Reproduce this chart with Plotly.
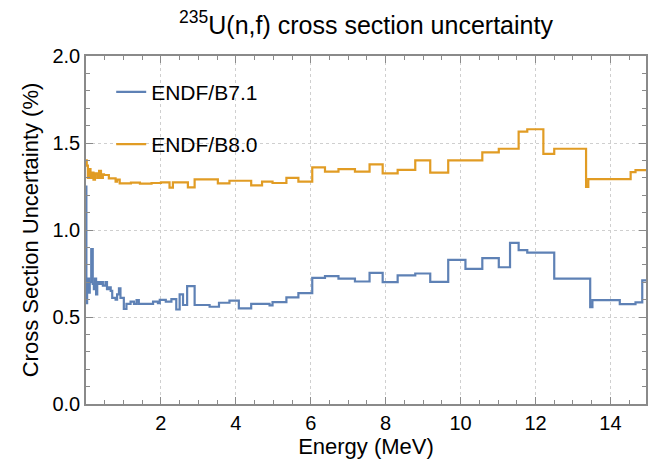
import plotly.graph_objects as go

# ENDF/B7.1 : bin start energies (MeV) and uncertainty (%)
e71 = [0.0, 0.01, 0.03, 0.06, 0.08, 0.10, 0.14, 0.18, 0.21, 0.24, 0.27, 0.30, 0.35, 0.40,
       0.45, 0.52, 0.56, 0.61, 0.66, 0.70, 0.79, 0.83, 0.88, 0.92, 1.01, 1.08, 1.19, 1.28,
       1.35, 1.41, 1.79, 1.92, 1.97, 2.13, 2.28, 2.41, 2.50, 2.59, 2.70, 2.90, 3.30, 3.55,
       3.83, 4.08, 4.41, 4.90, 4.98, 5.35, 5.67, 6.04, 6.38, 6.74, 7.18, 7.57, 7.92, 8.32,
       8.79, 9.19, 9.67, 10.13, 10.58, 11.02, 11.32, 11.55, 11.78, 12.50, 13.46, 13.52,
       14.25, 14.67, 14.85, 14.95]
u71 = [1.25, 0.58, 0.66, 0.72, 0.64, 0.70, 0.89, 0.69, 0.66, 0.72, 0.63, 0.70, 0.69, 0.70,
       0.68, 0.70, 0.66, 0.67, 0.65, 0.61, 0.60, 0.63, 0.665, 0.61, 0.546, 0.575, 0.588, 0.575,
       0.597, 0.575, 0.588, 0.58, 0.598, 0.588, 0.603, 0.543, 0.63, 0.569, 0.678, 0.569, 0.559,
       0.582, 0.594, 0.55, 0.575, 0.567, 0.586, 0.613, 0.637, 0.725, 0.735, 0.721, 0.704,
       0.754, 0.70, 0.739, 0.75, 0.702, 0.828, 0.777, 0.838, 0.786, 0.926, 0.884, 0.87,
       0.72, 0.557, 0.597, 0.574, 0.584, 0.71, 0.71]

# ENDF/B8.0
e80 = [0.0, 0.02, 0.05, 0.08, 0.12, 0.16, 0.20, 0.24, 0.30, 0.35, 0.40, 0.45, 0.48, 0.61,
       0.79, 0.83, 0.90, 1.20, 1.44, 1.75, 2.00, 2.23, 2.32, 2.72, 2.90, 3.52, 3.83, 4.41,
       4.70, 4.98, 5.35, 5.67, 6.04, 6.38, 6.74, 7.18, 7.57, 7.92, 8.32, 8.79, 9.19, 9.67,
       10.58, 11.02, 11.55, 11.78, 12.21, 12.50, 13.35, 13.41, 14.54, 14.67, 14.95]
u80 = [1.40, 1.37, 1.30, 1.35, 1.30, 1.33, 1.29, 1.326, 1.30, 1.34, 1.30, 1.32, 1.316, 1.297,
       1.278, 1.29, 1.268, 1.272, 1.266, 1.27, 1.274, 1.243, 1.274, 1.245, 1.291, 1.268, 1.283,
       1.257, 1.278, 1.27, 1.30, 1.278, 1.36, 1.336, 1.35, 1.336, 1.377, 1.325, 1.346, 1.40,
       1.33, 1.40, 1.446, 1.467, 1.565, 1.579, 1.438, 1.467, 1.248, 1.292, 1.333, 1.344, 1.344]

x_ticks = [2, 4, 6, 8, 10, 12, 14]
y_ticks = [0.0, 0.5, 1.0, 1.5, 2.0]

FONT = "Liberation Sans, Arial, Helvetica, sans-serif"
FRAME = "#8a8a8a"

fig = go.Figure()
fig.add_trace(go.Scatter(x=e71, y=u71, mode="lines", line_shape="hv", name="ENDF/B7.1",
                         legendgroup="a", line=dict(color="#5E81B5", width=2.2)))
fig.add_trace(go.Scatter(x=e80, y=u80, mode="lines", line_shape="hv", name="ENDF/B8.0",
                         legendgroup="b", line=dict(color="#E19C24", width=2.2)))

axis_common = dict(showline=True, linecolor=FRAME, linewidth=1.5, mirror="ticks",
                   ticks="inside", tickcolor=FRAME, ticklen=7, tickwidth=1,
                   showgrid=True, gridcolor="#cfcfcf", griddash="dot", gridwidth=1,
                   zeroline=False, tickfont=dict(size=20, color="black", family=FONT))

fig.update_xaxes(range=[0, 14.95], tickvals=x_ticks,
                 minor=dict(ticks="inside", dtick=0.5, tick0=0, ticklen=4, tickcolor=FRAME, showgrid=False),
                 title=dict(text="Energy (MeV)", font=dict(size=22, color="black", family=FONT), standoff=3),
                 **axis_common)
fig.update_yaxes(range=[0, 2.0], tickvals=y_ticks, tickformat=".1f",
                 minor=dict(ticks="inside", dtick=0.1, tick0=0, ticklen=4, tickcolor=FRAME, showgrid=False),
                 title=dict(text="Cross Section Uncertainty (%)", font=dict(size=22, color="black", family=FONT), standoff=8),
                 **axis_common)

fig.update_layout(
    width=648, height=468,
    margin=dict(l=86, r=0, t=56, b=64),
    paper_bgcolor="white", plot_bgcolor="white",
    font=dict(family=FONT, color="black"),
    title=dict(text="<sup>235</sup>U(n,f) cross section uncertainty",
               x=0.5, xref="paper", xanchor="center",
               y=1 - 25 / 468, yref="container", yanchor="middle",
               font=dict(size=25, color="black", family=FONT)),
    legend=dict(x=0.045, y=0.955, xanchor="left", yanchor="top", bgcolor="rgba(0,0,0,0)",
                font=dict(size=21, color="black", family=FONT), tracegroupgap=22),
    showlegend=True,
)

fig.write_html("out.html")
